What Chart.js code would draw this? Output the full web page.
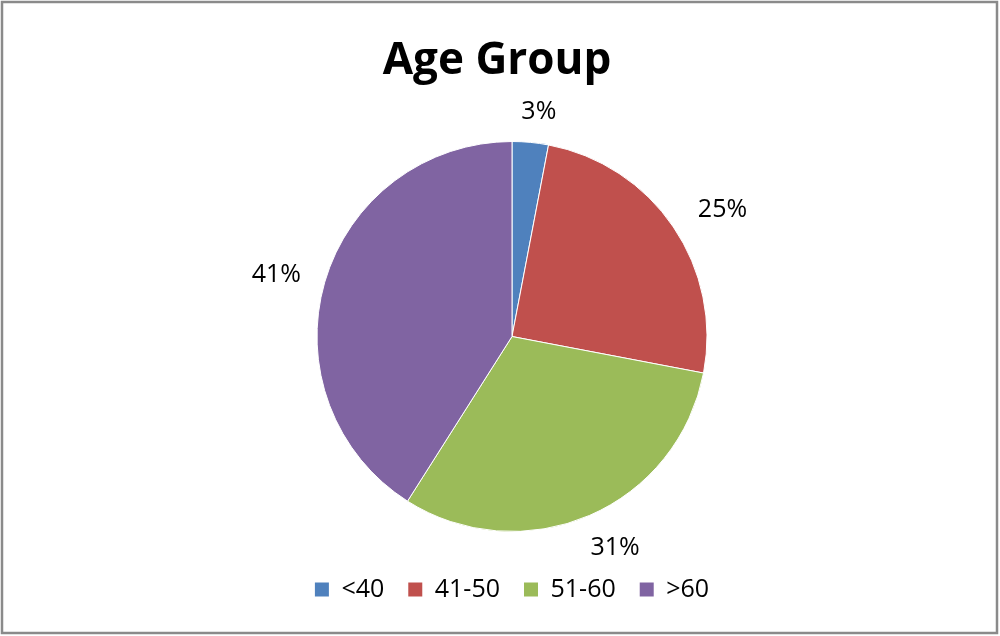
<!DOCTYPE html>
<html>
<head>
<meta charset="utf-8">
<script src="https://cdn.jsdelivr.net/npm/chart.js@4/dist/chart.umd.min.js"></script>
<style>
  html, body { margin: 0; padding: 0; background: #fff; }
  #wrap { width: 1000px; height: 636px; position: relative; }
</style>
</head>
<body>
<div id="wrap"><canvas id="c" width="1000" height="636"></canvas></div>
<script>
const chartTitle = "Age Group";
const categories = ["<40", "41-50", "51-60", ">60"];
const values = [3, 25, 31, 41];
const pctLabels = ["3%", "25%", "31%", "41%"];
const colors = ["#4F81BD", "#C0504D", "#9BBB59", "#8064A2"];

const FONT = "'Open Sans', Lato, sans-serif";

const frame = {
  id: 'frame',
  afterDraw(chart) {
    const ctx = chart.ctx;
    ctx.save();
    ctx.strokeStyle = '#8a8a8a';
    ctx.lineWidth = 2.5;
    ctx.strokeRect(2, 2, 995, 631);
    // title
    ctx.font = "bold 44px " + FONT;
    ctx.fillStyle = '#000';
    ctx.textAlign = 'center';
    ctx.textBaseline = 'middle';
    ctx.fillText(chartTitle, 497, 61);
    ctx.restore();
  }
};

const outLabels = {
  id: 'outLabels',
  afterDatasetsDraw(chart) {
    const ctx = chart.ctx;
    const meta = chart.getDatasetMeta(0);
    ctx.save();
    ctx.font = "25px " + FONT;
    ctx.fillStyle = '#000';
    ctx.textAlign = 'center';
    ctx.textBaseline = 'middle';
    meta.data.forEach((arc, i) => {
      const mid = (arc.startAngle + arc.endAngle) / 2;
      const r = arc.outerRadius + 12;
      const w = ctx.measureText(pctLabels[i]).width;
      const h = 18;
      const cx = arc.x + Math.cos(mid) * (r + w / 2 + 18) + 4;
      const cy = arc.y + Math.sin(mid) * (r + h / 2 + 12) + 2;
      ctx.fillText(pctLabels[i], cx, cy);
    });
    ctx.restore();
  }
};

new Chart(document.getElementById('c'), {
  type: 'pie',
  data: {
    labels: categories,
    datasets: [{
      data: values,
      backgroundColor: colors,
      borderColor: '#ffffff',
      borderWidth: 1,
      radius: 195
    }]
  },
  options: {
    responsive: false,
    animation: false,
    layout: { padding: { left: 24, right: 0, top: 120, bottom: 24 } },
    plugins: {
      title: { display: false },
      legend: {
        display: true,
        position: 'bottom',
        labels: {
          color: '#000',
          font: { family: FONT, size: 25 },
          boxWidth: 14,
          boxHeight: 14,
          padding: 24,
          generateLabels(chart) {
            return categories.map((c, i) => ({
              text: c,
              fillStyle: colors[i],
              strokeStyle: colors[i],
              lineWidth: 0,
              index: i,
              hidden: false
            }));
          }
        }
      },
      tooltip: { enabled: false }
    }
  },
  plugins: [frame, outLabels]
});
</script>
</body>
</html>
